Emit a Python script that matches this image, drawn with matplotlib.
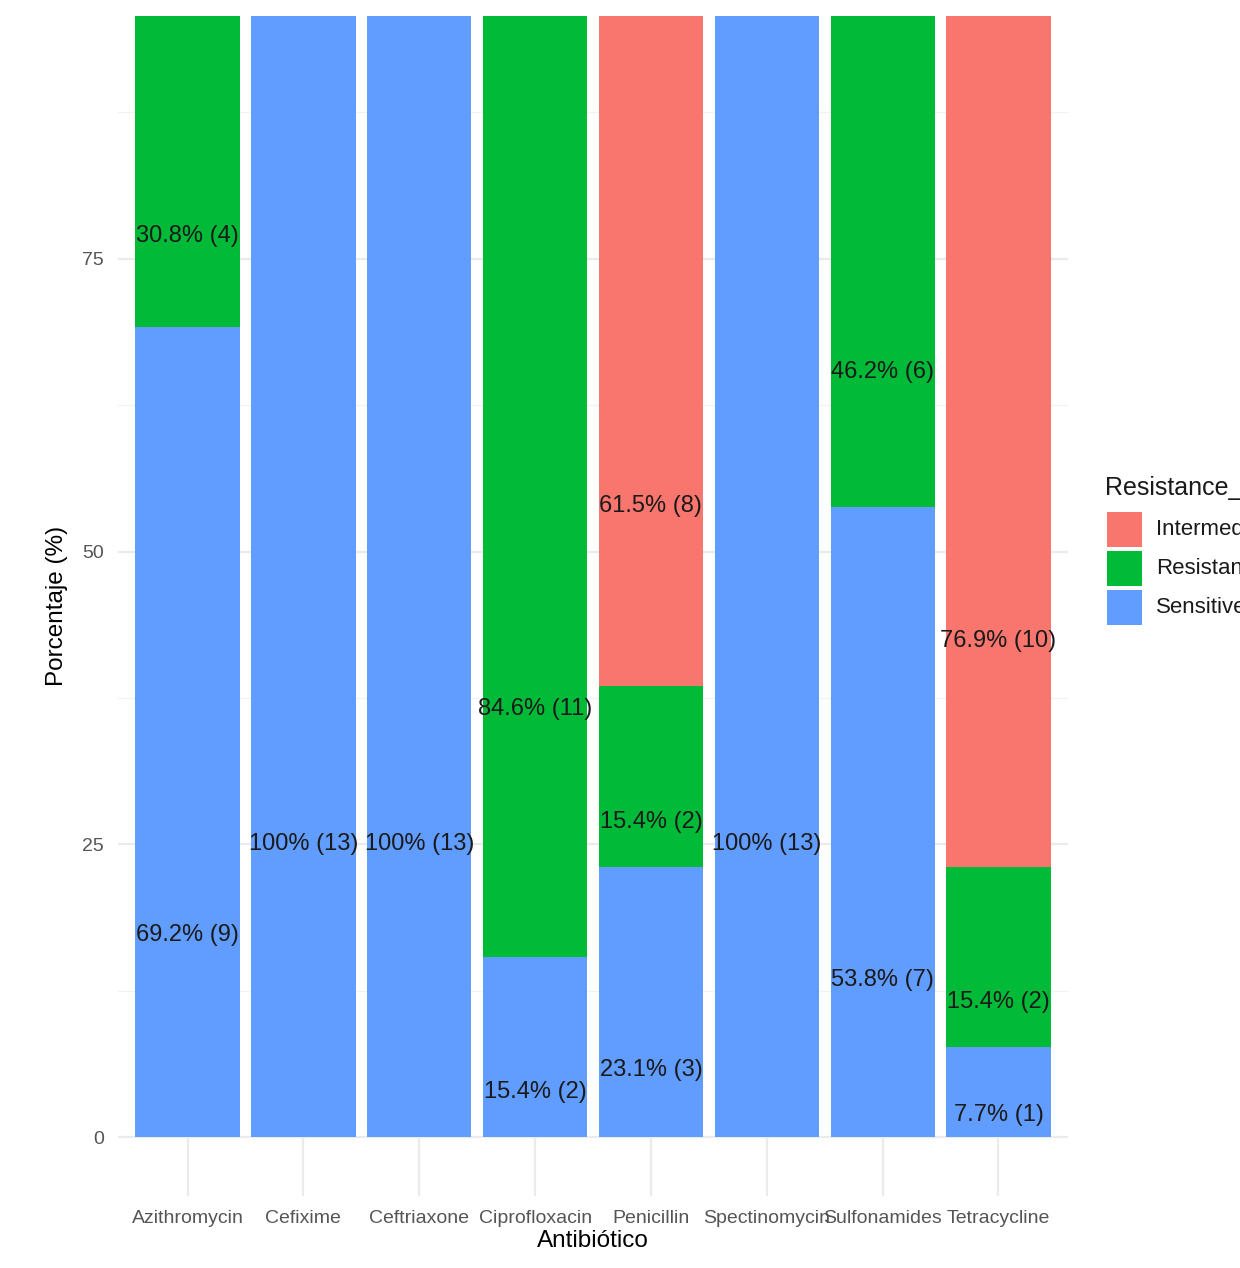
import numpy as np
import matplotlib
matplotlib.use("Agg")
import matplotlib.pyplot as plt
from matplotlib.patches import Rectangle

plt.rcParams['font.family'] = ['Liberation Sans', 'DejaVu Sans']

# datos
antibioticos = ['Azithromycin', 'Cefixime', 'Ceftriaxone', 'Ciprofloxacin',
                'Penicillin', 'Spectinomycin', 'Sulfonamides', 'Tetracycline']
pct_sensitive = [69.2, 100, 100, 15.4, 23.1, 100, 53.8, 7.7]
pct_resistant = [30.8, 0, 0, 84.6, 15.4, 0, 46.2, 15.4]
pct_intermediate = [0, 0, 0, 0, 61.5, 0, 0, 76.9]
n_sensitive = [9, 13, 13, 2, 3, 13, 7, 1]
n_resistant = [4, 0, 0, 11, 2, 0, 6, 2]
n_intermediate = [0, 0, 0, 0, 8, 0, 0, 10]
categorias = ['Intermediate', 'Resistant', 'Sensitive']

colores = {'Intermediate': '#F8766D', 'Resistant': '#00BA38', 'Sensitive': '#619CFF'}

W, H = 1240, 1268
fig = plt.figure(figsize=(W / 100, H / 100), dpi=100)
# panel en pixeles: x 118-1068, y 16-1196
ax = fig.add_axes([118 / W, 1 - 1196 / H, (1068 - 118) / W, (1196 - 16) / H])

x = np.arange(1, len(antibioticos) + 1)
base = np.zeros(len(x))
capas = [('Sensitive', pct_sensitive, n_sensitive),
         ('Resistant', pct_resistant, n_resistant),
         ('Intermediate', pct_intermediate, n_intermediate)]
for nombre, pct, n in capas:
    pct = np.array(pct, dtype=float)
    ax.bar(x, pct, width=0.9, bottom=base, color=colores[nombre], zorder=2)
    for xi, b, p, c in zip(x, base, pct, n):
        if p > 0:
            ax.text(xi, b + p * 0.25, f"{p:g}% ({c})", ha='center', va='center',
                    fontsize=17, color='#1a1a1a', zorder=3)
    base = base + pct

ax.set_xlim(0.4, len(x) + 0.6)
ax.set_ylim(-5, 95.7)
ax.set_xticks(x)
ax.set_xticklabels(antibioticos, fontsize=14, color='#555555')
ax.set_yticks([0, 25, 50, 75])
ax.set_yticklabels(['0', '25', '50', '75'], fontsize=14, color='#555555')
ax.set_yticks([12.5, 37.5, 62.5, 87.5], minor=True)
ax.tick_params(axis='both', which='both', length=0)
ax.tick_params(axis='x', pad=10)
ax.tick_params(axis='y', pad=10)
ax.grid(True, which='major', color='#EBEBEB', linewidth=1.6, zorder=0)
ax.grid(True, which='minor', axis='y', color='#F2F2F2', linewidth=0.9, zorder=0)
ax.set_axisbelow(True)
for s in ax.spines.values():
    s.set_visible(False)

ax.set_xlabel('Antibiótico', fontsize=17.5, color='black', labelpad=2)
ax.set_ylabel('Porcentaje (%)', fontsize=17.5, color='black', labelpad=10)

# leyenda (recortada por el borde derecho, como en la imagen original)
fig.text(1105 / W, 1 - 488 / H, 'Resistance_type', fontsize=18, va='center',
         ha='left', color='#1a1a1a')
for i, c in enumerate(categorias):
    top = 512 + i * 39
    fig.patches.append(Rectangle((1107 / W, 1 - (top + 35) / H), 35 / W, 35 / H,
                                 transform=fig.transFigure, facecolor=colores[c],
                                 edgecolor='none'))
    fig.text(1156 / W, 1 - (top + 17.5) / H, c, fontsize=16, va='center',
             ha='left', color='#1a1a1a')

fig.savefig('out.png', dpi=100)
